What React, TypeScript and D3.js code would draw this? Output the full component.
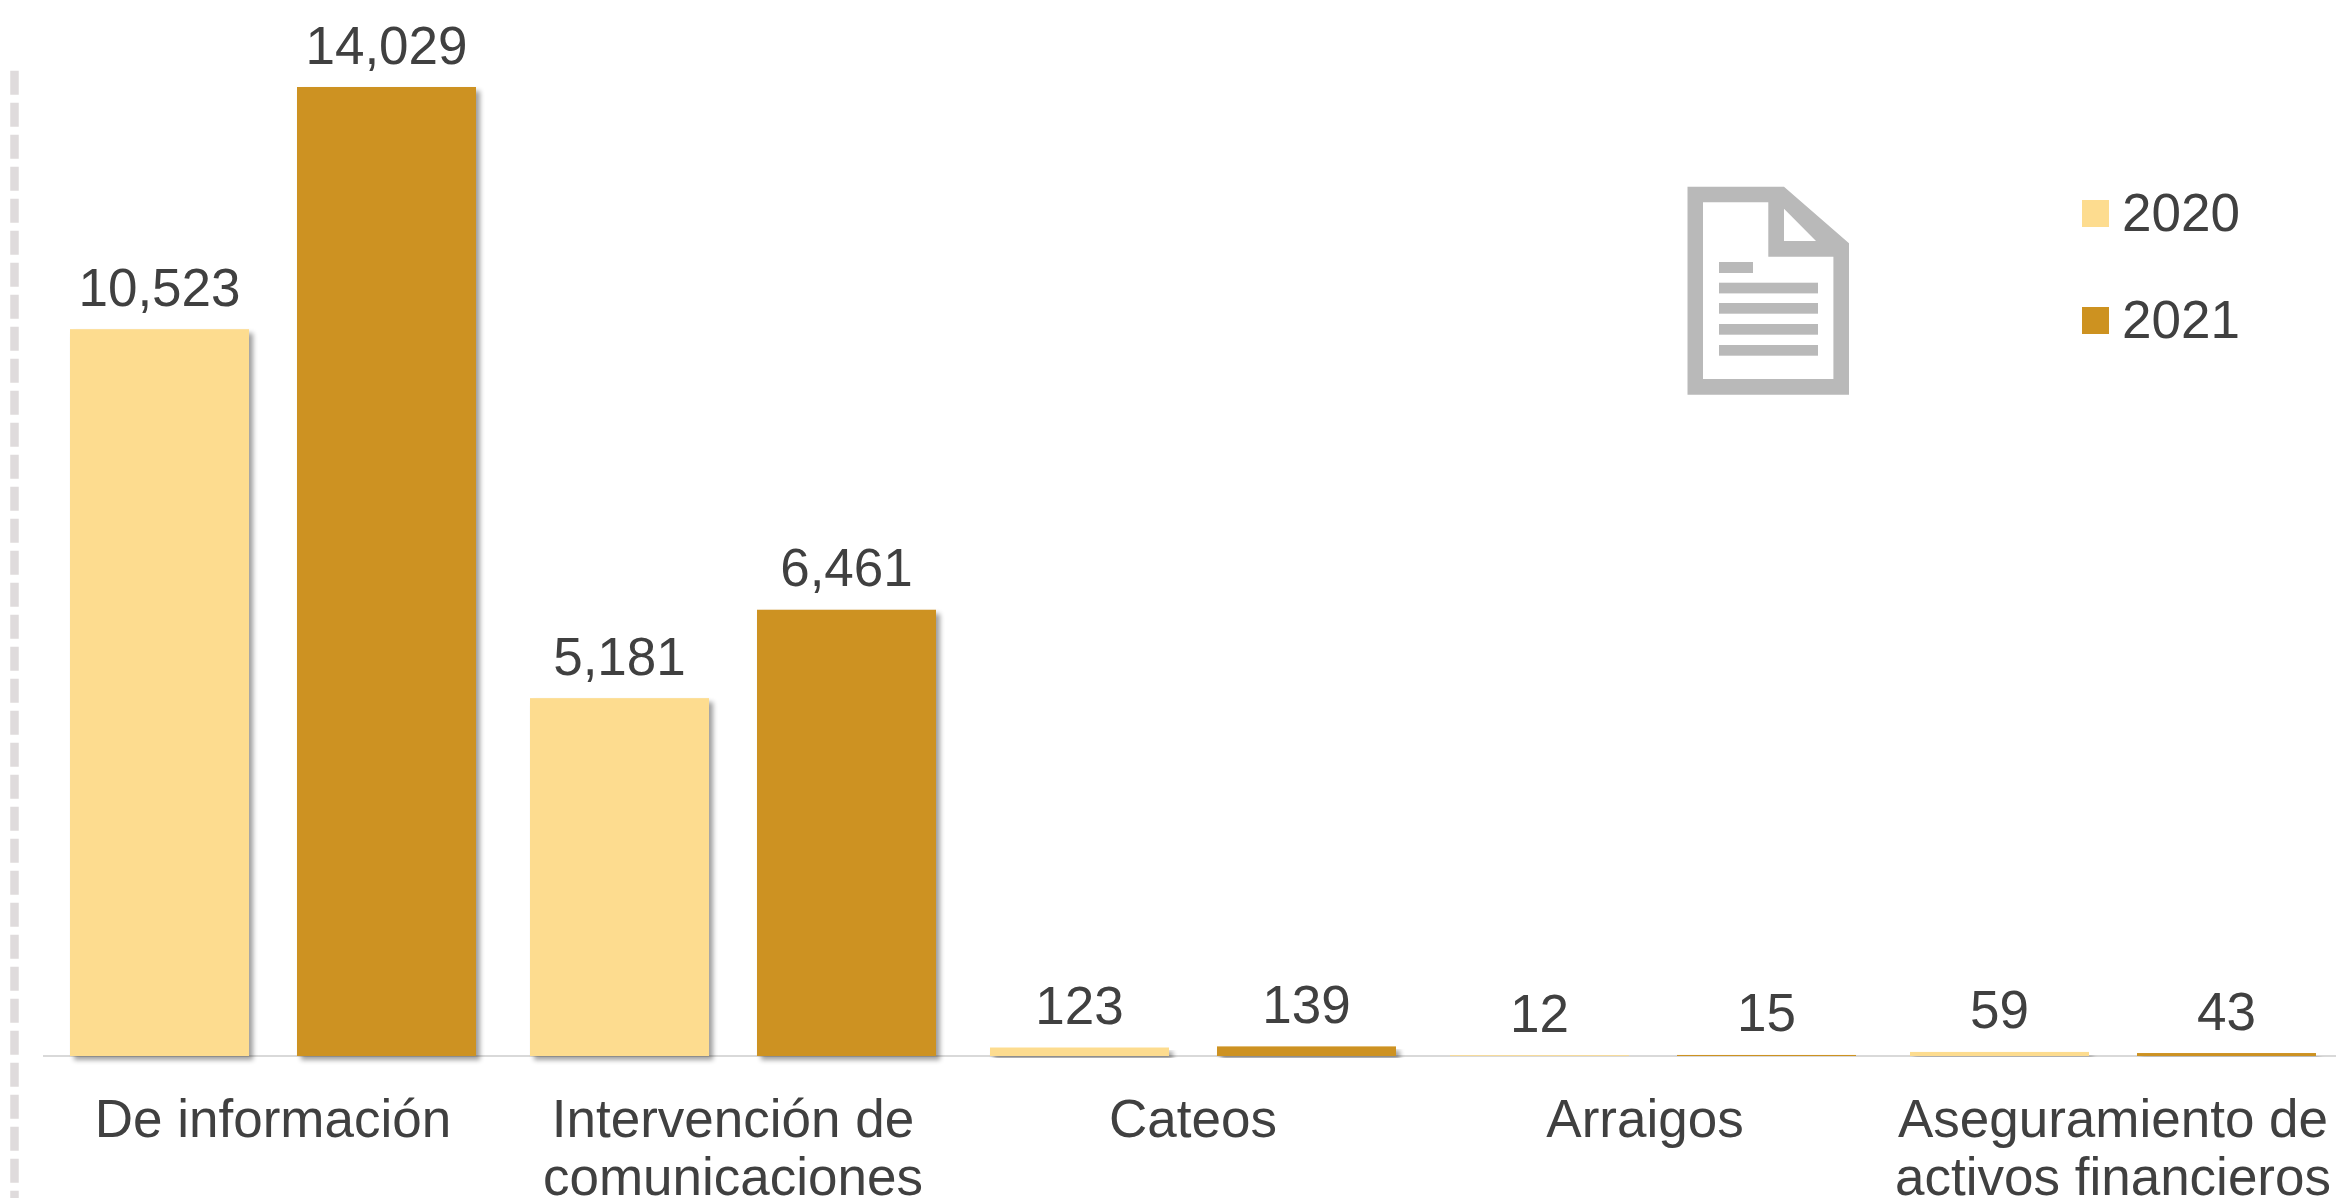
import React from "react";
import * as d3 from "d3";

const categories = ["De información", "Intervención de|comunicaciones", "Cateos", "Arraigos", "Aseguramiento de|activos financieros"];
const years = ["2020", "2021"];
const values2020 = [10523, 5181, 123, 12, 59];
const values2021 = [14029, 6461, 139, 15, 43];
const seriesValues = [values2020, values2021];

const W = 2336, H = 1198;
const COLORS = ["#FDDC8F", "#CD9220"];
const TEXT = "#404040";
const FONT = "'Liberation Sans', Arial, sans-serif";
const FS = 53;
const BASE = 1056;
const LABEL_DX = [0, 0, 0, -8, 0];

const x = d3.scaleBand<string>().domain(categories).range([70, 2316]).paddingInner(54 / 460).paddingOuter(0);
const xs = d3.scaleBand<string>().domain(years).range([0, x.bandwidth()]).paddingInner(48 / 227).paddingOuter(0);
const y = d3.scaleLinear().domain([0, 14029]).range([BASE, 87]);
const fmt = d3.format(",");

export default function App() {
  return (
    <svg width={W} height={H} viewBox={`0 0 ${W} ${H}`} style={{ position: "absolute", left: 0, top: 0, background: "#fff" }} fontFamily={FONT}>
      <defs>
        <filter id="sh" x="-10%" y="-10%" width="125%" height="125%" filterUnits="objectBoundingBox">
          <feGaussianBlur in="SourceAlpha" stdDeviation="2.6" />
          <feOffset dx="4" dy="4" />
          <feComponentTransfer><feFuncA type="linear" slope="0.38" /></feComponentTransfer>
          <feMerge><feMergeNode /><feMergeNode in="SourceGraphic" /></feMerge>
        </filter>
      </defs>
      <line x1={14.5} x2={14.5} y1={70.7} y2={H} stroke="#DFDBDC" strokeWidth={8.5} strokeDasharray="24 8" />
      <line x1={43} x2={W} y1={BASE} y2={BASE} stroke="#D9D9D9" strokeWidth={2} />
      {categories.map((c, i) => (
        <g key={c}>
          {years.map((yr, k) => {
            const v = seriesValues[k][i];
            const bx = x(c)! + xs(yr)!;
            const by = y(v);
            return (
              <g key={yr}>
                <rect x={bx} y={by} width={xs.bandwidth()} height={BASE - by} fill={COLORS[k]} filter="url(#sh)" />
                <text x={bx + xs.bandwidth() / 2} y={by - 23.5} textAnchor="middle" fontSize={FS} fill={TEXT}>{fmt(v)}</text>
              </g>
            );
          })}
          <text textAnchor="middle" fontSize={FS} fill={TEXT}>
            {c.split("|").map((t, j) => (
              <tspan key={j} x={x(c)! + x.bandwidth() / 2 + LABEL_DX[i]} y={1137 + j * 58}>{t}</tspan>
            ))}
          </text>
        </g>
      ))}
      <g fill="#B9B9B9">
        <path fillRule="evenodd" d="M1687.5 186.7H1784L1849 243.3V394.7H1687.5ZM1703 202.3V379H1833.4V256.7H1768.3V202.3ZM1784 208.7V241H1816Z" />
        <rect x={1719} y={262} width={34} height={11} />
        {[282.7, 303, 324, 345].map((ly) => <rect key={ly} x={1719} y={ly} width={99} height={10.7} />)}
      </g>
      {years.map((yr, k) => (
        <g key={yr}>
          <rect x={2082} y={200 + k * 107} width={27} height={27} fill={COLORS[k]} />
          <text x={2122} y={230.7 + k * 107} fontSize={FS} fill={TEXT}>{yr}</text>
        </g>
      ))}
    </svg>
  );
}
